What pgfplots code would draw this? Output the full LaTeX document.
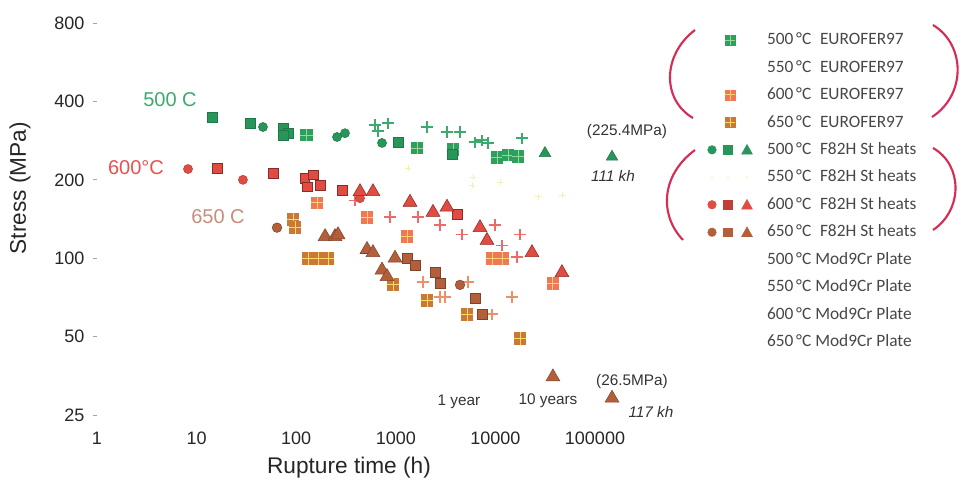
\documentclass[border=0pt]{standalone}
\usepackage{fontspec}
\setmainfont{Liberation Sans}
\newfontfamily\legfont{Carlito}
\usepackage{pgfplots}
\pgfplotsset{compat=1.18}

\definecolor{gF}{RGB}{40,150,90}
\definecolor{gE}{RGB}{45,160,95}
\definecolor{gEx}{RGB}{150,215,150}
\definecolor{gM}{RGB}{60,170,110}
\definecolor{rF}{RGB}{225,75,65}
\definecolor{rE}{RGB}{240,120,85}
\definecolor{rEx}{RGB}{255,210,120}
\definecolor{rM}{RGB}{240,105,105}
\definecolor{bF}{RGB}{180,95,60}
\definecolor{bE}{RGB}{200,120,55}
\definecolor{bEx}{RGB}{255,215,100}
\definecolor{bM}{RGB}{235,145,105}
\definecolor{yM}{RGB}{248,238,175}
\definecolor{brk}{RGB}{215,45,85}
\definecolor{lg}{RGB}{60,170,110}
\definecolor{lr}{RGB}{235,80,80}
\definecolor{lb}{RGB}{200,140,120}

\newcommand\euromark[2]{%
\pgfdeclareplotmark{#1}{%
 \pgfpathrectangle{\pgfpoint{-\pgfplotmarksize}{-\pgfplotmarksize}}{\pgfpoint{2\pgfplotmarksize}{2\pgfplotmarksize}}%
 \pgfusepathqfill
 \pgfsetlinewidth{0.7pt}%
 \pgfsetstrokecolor{#2}%
 \pgfpathmoveto{\pgfpoint{-\pgfplotmarksize}{0pt}}\pgfpathlineto{\pgfpoint{\pgfplotmarksize}{0pt}}%
 \pgfpathmoveto{\pgfpoint{0pt}{-\pgfplotmarksize}}\pgfpathlineto{\pgfpoint{0pt}{\pgfplotmarksize}}%
 \pgfusepathqstroke}}
\euromark{euroG}{gEx}
\euromark{euroR}{rEx}
\euromark{euroB}{bEx}

\newcommand\legbox{\path[draw=none,fill=none] (0pt,-3pt) rectangle (35.25pt,3pt);}

\begin{document}
\begin{tikzpicture}
\useasboundingbox (-72.75pt,-53.25pt) rectangle (647.25pt,311.25pt);
\begin{axis}[
  at={(0,0)}, anchor=south west,
  scale only axis, width=373.5pt, height=294pt,
  xmode=log, ymode=log,
  xmin=1, xmax=1e5, ymin=25, ymax=800,
  clip=false,
  axis line style={draw=none},
  xtick={1,10,100,1000,10000,100000},
  xticklabels={1,10,100,1000,10000,100000},
  ytick={25,50,100,200,400,800},
  yticklabels={25,50,100,200,400,800},
  minor xtick={}, minor ytick={},
  xtick pos=bottom, ytick pos=left,
  tick align=outside,
  xtick style={draw=none},
  ytick style={black!35, line width=0.6pt},
  major tick length=3pt,
  tick label style={font=\fontsize{13.5}{16}\selectfont, text=black!85},
  yticklabel style={xshift=-3pt},
  xticklabel style={yshift=-6pt},
  /pgf/number format/assume math mode=true,
  xlabel={Rupture time (h)}, ylabel={Stress (MPa)},
  every axis x label/.style={at={(axis description cs:0.506,-0.135)}, anchor=center, font=\fontsize{17}{20}\selectfont, text=black!85},
  every axis y label/.style={at={(axis description cs:-0.1546,0.579)}, anchor=center, rotate=90, font=\fontsize{17}{20}\selectfont, text=black!85},
  legend cell align=left,
  legend style={at={(axis description cs:1.2249,0.9788)}, anchor=north west,
    draw=none, fill=none, inner sep=0pt, outer sep=0pt, row sep=7.6pt,
    /tikz/every odd column/.append style={column sep=9.75pt},
    nodes={font=\legfont\fontsize{13}{15}\selectfont, text=black!72, inner sep=0pt, text height=10pt, text depth=3pt}},
]
% legend images
\addlegendimage{legend image code/.code={\legbox
  \fill[gE] (13.5pt,-3.75pt) rectangle (21pt,3.75pt);
  \draw[gEx,line width=0.7pt] (13.5pt,0pt)--(21pt,0pt) (17.25pt,-3.75pt)--(17.25pt,3.75pt);}}
\addlegendimage{legend image code/.code={\legbox}}
\addlegendimage{legend image code/.code={\legbox
  \fill[rE] (13.5pt,-3.75pt) rectangle (21pt,3.75pt);
  \draw[rEx,line width=0.7pt] (13.5pt,0pt)--(21pt,0pt) (17.25pt,-3.75pt)--(17.25pt,3.75pt);}}
\addlegendimage{legend image code/.code={\legbox
  \fill[bE] (13.5pt,-3.75pt) rectangle (21pt,3.75pt);
  \draw[bEx,line width=0.7pt] (13.5pt,0pt)--(21pt,0pt) (17.25pt,-3.75pt)--(17.25pt,3.75pt);}}
\addlegendimage{legend image code/.code={\legbox
  \fill[gF] (3.75pt,0pt) circle (3.2pt);
  \fill[gF] (12.5pt,-3.3pt) rectangle (19pt,3.3pt);
  \fill[gF] (30pt,4pt) -- (34pt,-3.2pt) -- (26pt,-3.2pt) -- cycle;}}
\addlegendimage{legend image code/.code={\legbox
  \fill[yM!40] (3.75pt,0pt) circle (1pt);
  \fill[yM!40] (15.75pt,0pt) circle (1pt);
  \fill[yM!40] (30pt,0pt) circle (1pt);}}
\addlegendimage{legend image code/.code={\legbox
  \fill[rF] (3.75pt,0pt) circle (3.2pt);
  \fill[rF!85!black] (12.5pt,-3.3pt) rectangle (19pt,3.3pt);
  \fill[rF] (30pt,4pt) -- (34pt,-3.2pt) -- (26pt,-3.2pt) -- cycle;}}
\addlegendimage{legend image code/.code={\legbox
  \fill[bF] (3.75pt,0pt) circle (3.2pt);
  \fill[bF] (12.5pt,-3.3pt) rectangle (19pt,3.3pt);
  \fill[bF] (30pt,4pt) -- (34pt,-3.2pt) -- (26pt,-3.2pt) -- cycle;}}
\addlegendimage{legend image code/.code={\legbox}}
\addlegendimage{legend image code/.code={\legbox}}
\addlegendimage{legend image code/.code={\legbox}}
\addlegendimage{legend image code/.code={\legbox}}

% ---- 550 C (faint)
\addplot[forget plot, only marks, mark=+, mark size=2.5pt, mark options={draw=yM, line width=0.6pt}]
 coordinates {(1326,222) (5822,191) (5960,205) (11120,196) (26780,172) (46560,175)};

% ---- Mod9Cr plate (plus)
\addplot[forget plot, only marks, mark=+, mark size=4.2pt, mark options={draw=gM, line width=1pt}]
 coordinates {(618,325) (662,308) (835,330) (2057,319) (3266,305) (4411,305) (6237,279) (7332,284) (8430,277) (18490,289)};
\addplot[forget plot, only marks, mark=+, mark size=4.2pt, mark options={draw=rM, line width=1pt}]
 coordinates {(389,167) (875,144) (1671,144) (2777,134) (4620,123) (9906,134) (11640,112) (17660,123) (16480,101)};
\addplot[forget plot, only marks, mark=+, mark size=4.2pt, mark options={draw=bM, line width=1pt}]
 coordinates {(1875,81) (2777,71) (3119,71) (5307,81) (9246,61) (14680,71)};

% ---- EUROFER97
\addplot[forget plot, only marks, mark=euroG, mark size=4.8pt, mark options={fill=gE}]
 coordinates {(128,297) (1633,265) (3751,262) (10370,243) (13380,249) (16870,245)};
\addplot[forget plot, only marks, mark=euroR, mark size=4.8pt, mark options={fill=rE}]
 coordinates {(162,163) (514,143) (1295,121) (9246,100) (11910,100) (37820,80)};
\addplot[forget plot, only marks, mark=euroB, mark size=4.8pt, mark options={fill=bE}]
 coordinates {(92.9,141) (97.3,131) (132,100) (166,100) (209,100) (937,79) (2057,69) (5185,61) (17660,49)};

% ---- F82H St heats 500 C
\addplot[forget plot, only marks, mark=square*, mark size=3.7pt, mark options={draw=gF!80!black, fill=gF}]
 coordinates {(14.3,348) (34.4,330) (73.7,316) (82.7,302) (73.7,297) (1052,279) (3665,250)};
\addplot[forget plot, only marks, mark=*, mark size=3.4pt, mark options={draw=gF!80!black, fill=gF}]
 coordinates {(46.4,319) (257,292) (309,302) (727,277)};
\addplot[forget plot, only marks, mark=triangle*, mark size=5pt, mark options={draw=gF!80!black, fill=gF}]
 coordinates {(31450,253) (148200,245)};

% ---- F82H St heats 600 C
\addplot[forget plot, only marks, mark=square*, mark size=3.7pt, mark options={draw=rF!60!black, fill=rF}]
 coordinates {(16.0,222) (58.5,212) (122,203) (147,209) (173,191) (128,188) (288,183) (4113,147)};
\addplot[forget plot, only marks, mark=*, mark size=3.4pt, mark options={draw=rF!80!black, fill=rF}]
 coordinates {(8.2,220) (29.2,200) (437,170)};
\addplot[forget plot, only marks, mark=triangle*, mark size=6pt, mark options={draw=rF!60!black, fill=rF}]
 coordinates {(437,180) (590,180) (1389,164) (2362,150) (3266,157) (7000,131) (8234,117) (23290,105) (46560,88)};

% ---- F82H St heats 650 C
\addplot[forget plot, only marks, mark=square*, mark size=3.7pt, mark options={draw=bF!70!black, fill=bF}]
 coordinates {(1295,100) (1559,94) (2474,88) (2777,80) (6237,70) (7332,61)};
\addplot[forget plot, only marks, mark=*, mark size=3.6pt, mark options={draw=bF!70!black, fill=bF}]
 coordinates {(64.2,131) (4411,79)};
\addplot[forget plot, only marks, mark=triangle*, mark size=6pt, mark options={draw=bF!70!black, fill=bF}]
 coordinates {(195,121) (245,121) (263,123) (514,108) (590,105) (982,100) (727,90) (816,85) (37820,35) (148200,29)};

\legend{500\,°C\enspace EUROFER97, 550\,°C\enspace EUROFER97, 600\,°C\enspace EUROFER97, 650\,°C\enspace EUROFER97,
 500\,°C\enspace F82H St heats, 550\,°C\enspace F82H St heats, 600\,°C\enspace F82H St heats, 650\,°C\enspace F82H St heats,
 500\,°C Mod9Cr Plate, 550\,°C Mod9Cr Plate, 600\,°C Mod9Cr Plate, 650\,°C Mod9Cr Plate}
\end{axis}

\begin{scope}[x=0.75pt,y=-0.75pt,shift={(-97,-415)}]
 \node[text=lg, font=\fontsize{15}{18}\selectfont] at (170,100) {500 C};
 \node[text=lr, font=\fontsize{15}{18}\selectfont] at (136,168) {600°C};
 \node[text=lb, font=\fontsize{15}{18}\selectfont] at (218,217) {650 C};
 \begin{scope}[every node/.style={font=\fontsize{11.5}{14}\selectfont, text=black!80}]
 \node at (627,132) {(225.4MPa)};
 \node[font=\fontsize{11.5}{14}\selectfont\itshape] at (613,176) {111 kh};
 \node at (632,382) {(26.5MPa)};
 \node[font=\fontsize{11.5}{14}\selectfont\itshape] at (651,412) {117 kh};
 \node at (459,402) {1 year};
 \node at (548,401) {10 years};
 \end{scope}
 \begin{scope}[brk, line width=1.6pt]
 \draw (695,30) .. controls (662,55) and (662,100) .. (693,118);
 \draw (933,25) .. controls (966,45) and (966,95) .. (932,117);
 \draw (695,150) .. controls (661,175) and (659,215) .. (683,240);
 \draw (933,148) .. controls (963,165) and (963,210) .. (933,230);
 \end{scope}
\end{scope}
\end{tikzpicture}
\end{document}
